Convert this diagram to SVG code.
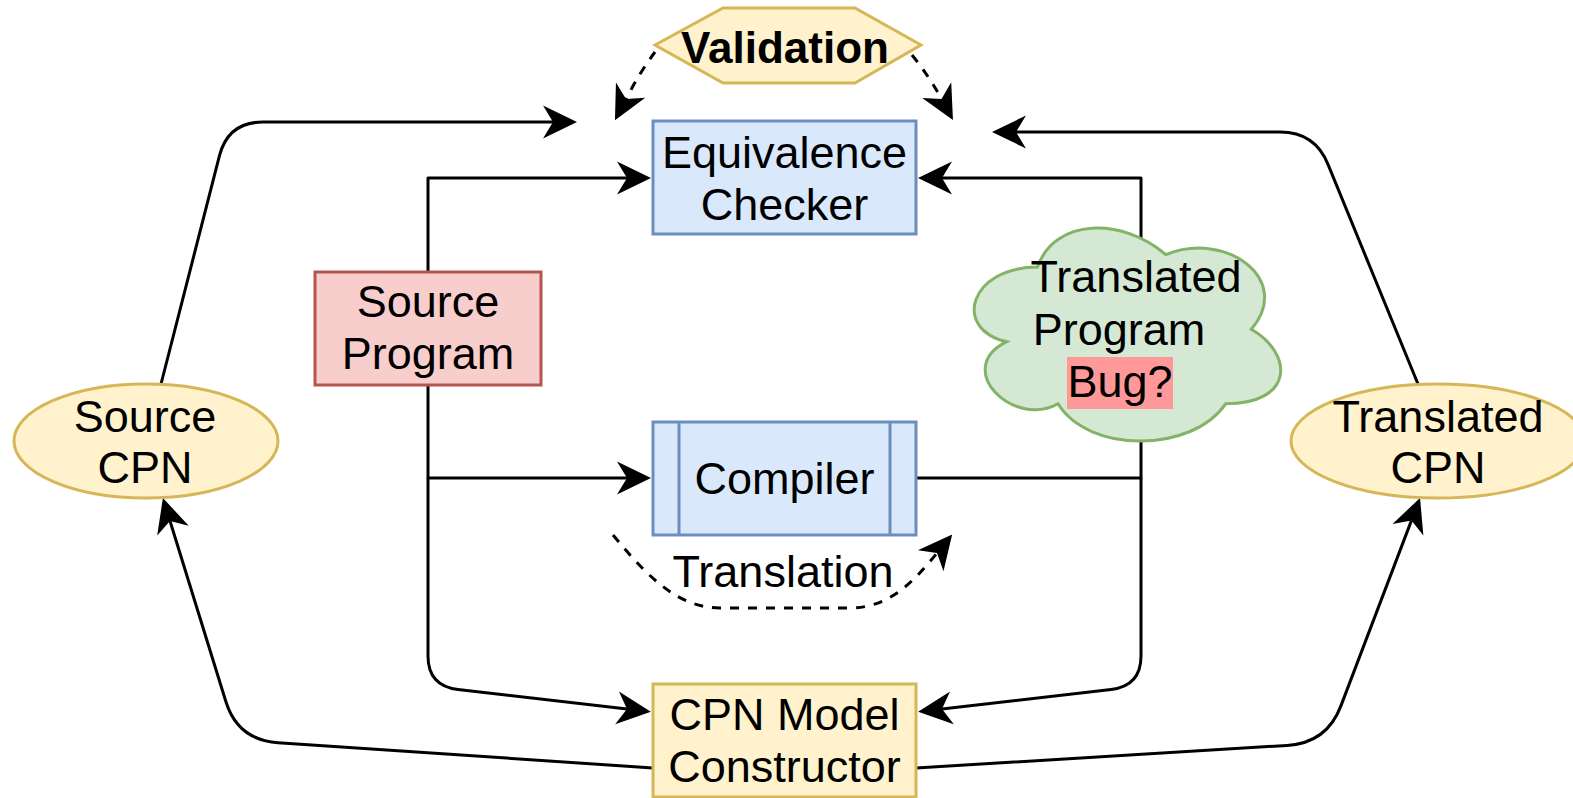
<svg xmlns="http://www.w3.org/2000/svg" width="1573" height="798" viewBox="0 0 1573 798">
<style>
.t{font-family:"Liberation Sans",Arial,sans-serif;font-size:45px;fill:#000;text-anchor:middle}
.b{font-weight:bold;font-size:44px}
.c{fill:none;stroke:#000;stroke-width:3;stroke-linejoin:round}
.d{stroke-dasharray:9 9}
.blue{fill:#dae8fc;stroke:#6c8ebf;stroke-width:3}
.red{fill:#f8cecc;stroke:#b85450;stroke-width:3}
.yel{fill:#fff2cc;stroke:#d6b656;stroke-width:3}
.grn{fill:#d5e8d4;stroke:#82b366;stroke-width:3}
</style>
<defs>
<marker id="arr" viewBox="-12 -18 38 36" refX="0" refY="0" markerWidth="38" markerHeight="36" markerUnits="userSpaceOnUse" orient="auto">
<path d="M24,0 L-10,-16.5 L0,0 L-10,16.5 Z" fill="#000"/>
</marker>
</defs>
<rect width="1573" height="798" fill="#fff"/>
<g id="connectors">
<path class="c" marker-end="url(#arr)" d="M428,272 L428,178 L627,178"/>
<path class="c" marker-end="url(#arr)" d="M428,385 L428,478 L627,478"/>
<path class="c" marker-end="url(#arr)" d="M428,478 L428,656 Q428,686 458,689.5 L627,709"/>
<path class="c" marker-end="url(#arr)" d="M916,478 L1141,478 L1141,178 L942,178"/>
<path class="c" marker-end="url(#arr)" d="M1141,478 L1141,656 Q1141,686 1111,689.5 L942,709"/>
<path class="c" marker-end="url(#arr)" d="M653,768 L278,742.7 Q238,740 226,702 L170,521"/>
<path class="c" marker-end="url(#arr)" d="M916,768 L1287,745.4 Q1327,743 1341,705.6 L1411.5,520.4"/>
<path class="c" marker-end="url(#arr)" d="M161,384 L219.4,155.9 Q228,122 263,122 L553,122"/>
<path class="c" marker-end="url(#arr)" d="M1418,384 L1328,164.4 Q1315,132 1280,132 L1016,132"/>
<path class="c d" marker-end="url(#arr)" d="M655,52 Q640,72 626,99"/>
<path class="c d" marker-end="url(#arr)" d="M912,55 Q929,76 941.5,99"/>
<path class="c d" marker-end="url(#arr)" d="M613,535 C650,580 680,608 720,608 L850,608 C890,608 915,580 937,553"/>
<text class="t" x="783" y="587">Translation</text>
</g>
<g id="validation">
<polygon class="yel" points="655,45 723,8 855,8 921,45 855,83 723,83"/>
<text class="t b" x="785" y="63">Validation</text>
</g>
<g id="equivalence-checker">
<rect class="blue" x="653" y="121" width="263" height="113"/>
<text class="t" x="784.5" y="168">Equivalence</text>
<text class="t" x="784.5" y="220">Checker</text>
</g>
<g id="source-program">
<rect class="red" x="315" y="272" width="226" height="113"/>
<text class="t" x="428" y="317">Source</text>
<text class="t" x="428" y="369">Program</text>
</g>
<g id="compiler">
<rect class="blue" x="653" y="422" width="263" height="113"/>
<line x1="679" y1="422" x2="679" y2="535" stroke="#6c8ebf" stroke-width="3"/>
<line x1="890" y1="422" x2="890" y2="535" stroke="#6c8ebf" stroke-width="3"/>
<text class="t" x="784.5" y="494">Compiler</text>
</g>
<g id="translated-program">
<path class="grn" transform="translate(952,205)" d="M85.5,62.1 C17.1,62.1 0,124.3 54.7,136.7 C0,164 61.6,223.7 106,198.8 C136.8,248.5 239.4,248.5 273.6,198.8 C342,198.8 342,149.1 299.3,124.3 C342,74.6 273.6,24.9 213.8,49.7 C171,12.4 102.6,12.4 85.5,62.1 Z"/>
<rect x="1067" y="357" width="106" height="52" fill="#ff9999"/>
<text class="t" x="1136" y="292">Translated</text>
<text class="t" x="1119" y="345">Program</text>
<text class="t" x="1120" y="397">Bug?</text>
</g>
<g id="source-cpn">
<ellipse class="yel" cx="146" cy="441" rx="132" ry="57"/>
<text class="t" x="145" y="432">Source</text>
<text class="t" x="145" y="483">CPN</text>
</g>
<g id="translated-cpn">
<ellipse class="yel" cx="1438" cy="441" rx="147" ry="57"/>
<text class="t" x="1438" y="432">Translated</text>
<text class="t" x="1438" y="483">CPN</text>
</g>
<g id="cpn-model-constructor">
<rect class="yel" x="653" y="684" width="263" height="113"/>
<text class="t" x="784.5" y="730">CPN Model</text>
<text class="t" x="784.5" y="782">Constructor</text>
</g>
</svg>
